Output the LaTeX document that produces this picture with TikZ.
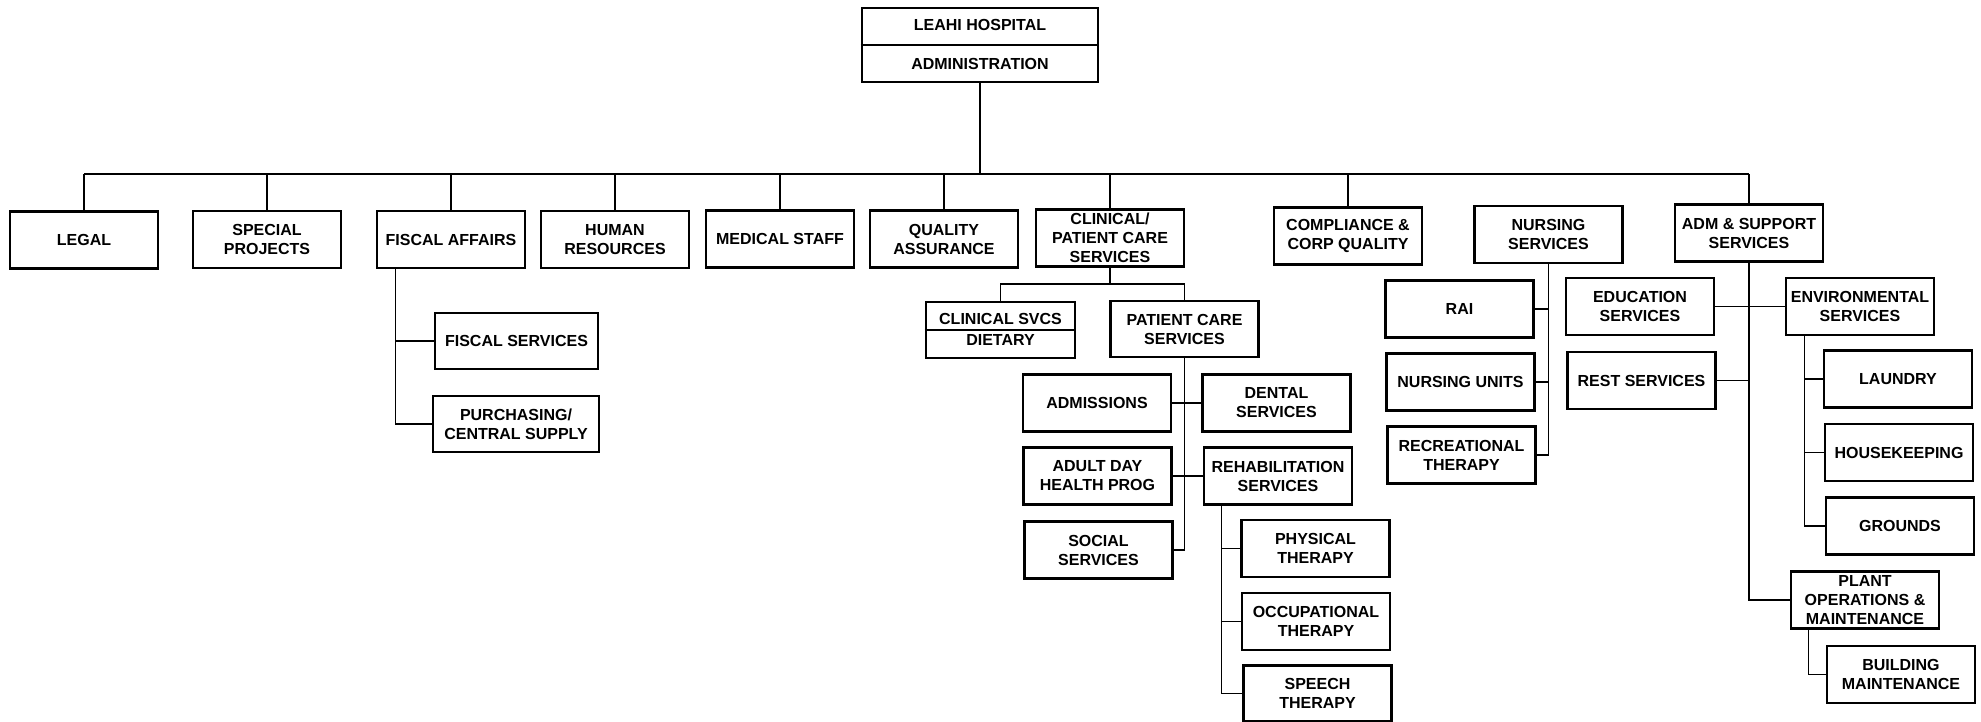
\documentclass[tikz,border=0pt]{standalone}
\usepackage{fontspec}
\setmainfont{Liberation Sans}

\begin{document}
\begin{tikzpicture}[x=1pt,y=-1pt,
  dept/.style={draw, line width=2.6, minimum width=148, minimum height=57, inner sep=1.5, align=center, font=\bfseries\fontsize{16}{19}\selectfont},
  boxtext/.style={inner sep=0, font=\bfseries\fontsize{16}{19}\selectfont},
  link/.style={line width=1.4}]
\useasboundingbox (0,0) rectangle (1981,722);
\node[dept, minimum width=236, minimum height=74] (root) at (980,45) {};
\node[boxtext] (roottop) at (980,25) {LEAHI HOSPITAL};
\node[boxtext] (rootbot) at (980,64) {ADMINISTRATION};
\draw[line width=2] (root.west) -- (root.east);
\node[dept] (legal) at (84,240) {LEGAL};
\node[dept] (special) at (267,239.5) {SPECIAL\\PROJECTS};
\node[dept] (fiscal) at (451,239.5) {FISCAL AFFAIRS};
\node[dept] (hr) at (615,239.5) {HUMAN\\RESOURCES};
\node[dept] (medstaff) at (780,239) {MEDICAL STAFF};
\node[dept] (qa) at (944,239) {QUALITY\\ASSURANCE};
\node[dept] (clinical) at (1110,238) {CLINICAL/\\PATIENT CARE\\SERVICES};
\node[dept] (compliance) at (1348,236) {COMPLIANCE \&\\CORP QUALITY};
\node[dept] (nursing) at (1548.5,234.5) {NURSING\\SERVICES};
\node[dept] (admsupp) at (1749,233) {ADM \& SUPPORT\\SERVICES};
\node[dept, minimum width=163, minimum height=56] (fiscalsvc) at (516.5,341) {FISCAL SERVICES};
\node[dept, minimum width=166, minimum height=56] (purchasing) at (516,424) {PURCHASING/\\CENTRAL SUPPLY};
\node[dept, minimum width=149, minimum height=56] (dietary) at (1000.5,330) {};
\node[boxtext] (dietarytop) at (1000.5,319) {CLINICAL SVCS};
\node[boxtext] (dietarybot) at (1000.5,340) {DIETARY};
\draw[line width=2] (dietary.west) -- (dietary.east);
\node[dept, minimum height=56] (patcare) at (1184.5,329) {PATIENT CARE\\SERVICES};
\node[dept] (admissions) at (1097,403) {ADMISSIONS};
\node[dept] (dental) at (1276.5,403) {DENTAL\\SERVICES};
\node[dept] (adultday) at (1097.5,476) {ADULT DAY\\HEALTH PROG};
\node[dept] (rehab) at (1278,476) {REHABILITATION\\SERVICES};
\node[dept] (social) at (1098.5,550) {SOCIAL\\SERVICES};
\node[dept] (physical) at (1315.5,548.5) {PHYSICAL\\THERAPY};
\node[dept] (occupational) at (1316,621.5) {OCCUPATIONAL\\THERAPY};
\node[dept, minimum height=56] (speech) at (1317.5,693.5) {SPEECH\\THERAPY};
\node[dept] (rai) at (1459.5,309) {RAI};
\node[dept] (nursingunits) at (1460.5,382) {NURSING UNITS};
\node[dept] (recreational) at (1461.5,455) {RECREATIONAL\\THERAPY};
\node[dept] (education) at (1640,306.5) {EDUCATION\\SERVICES};
\node[dept] (environmental) at (1860,306.5) {ENVIRONMENTAL\\SERVICES};
\node[dept] (rest) at (1641.5,380.5) {REST SERVICES};
\node[dept] (laundry) at (1898,379) {LAUNDRY};
\node[dept] (housekeeping) at (1899,452.5) {HOUSEKEEPING};
\node[dept] (grounds) at (1900,526) {GROUNDS};
\node[dept] (plant) at (1865,600) {PLANT\\OPERATIONS \&\\MAINTENANCE};
\node[dept] (bldgmaint) at (1901,674.5) {BUILDING\\MAINTENANCE};
\coordinate (bus) at (980,174);
\draw[link] (root.south) -- (bus);
\draw[link] (bus -| legal.north) -- (bus -| admsupp.north);
\foreach \d in {legal,special,fiscal,hr,medstaff,qa,clinical,compliance,admsupp}
  \draw[link] (bus -| \d.north) -- (\d.north);
\draw[link] ([xshift=20]fiscal.south west) |- (fiscalsvc.west);
\draw[link] ([xshift=20]fiscal.south west) |- (purchasing.west);
\draw[link] (clinical.south) -- ++(0,16) coordinate (split);
\draw[link] (dietary.north) |- (split) -| (patcare.north);
\draw[link] (patcare.south) |- (social.east);
\draw[link] (admissions.east) -- (dental.west);
\draw[link] (adultday.east) -- (rehab.west);
\foreach \t in {physical,occupational,speech}
  \draw[link] ([xshift=19]rehab.south west) |- (\t.west);
\draw[link] (nursing.south) |- (recreational.east);
\draw[link] (rai.east) -- (rai.east -| nursing.south);
\draw[link] (nursingunits.east) -- (nursingunits.east -| nursing.south);
\draw[link] (admsupp.south) |- (plant.west);
\draw[link] (education.east) -- (environmental.west);
\draw[link] (rest.east) -- (rest.east -| admsupp.south);
\foreach \e in {laundry,housekeeping,grounds}
  \draw[link] ([xshift=20]environmental.south west) |- (\e.west);
\draw[link] ([xshift=19]plant.south west) |- (bldgmaint.west);
\end{tikzpicture}
\end{document}
